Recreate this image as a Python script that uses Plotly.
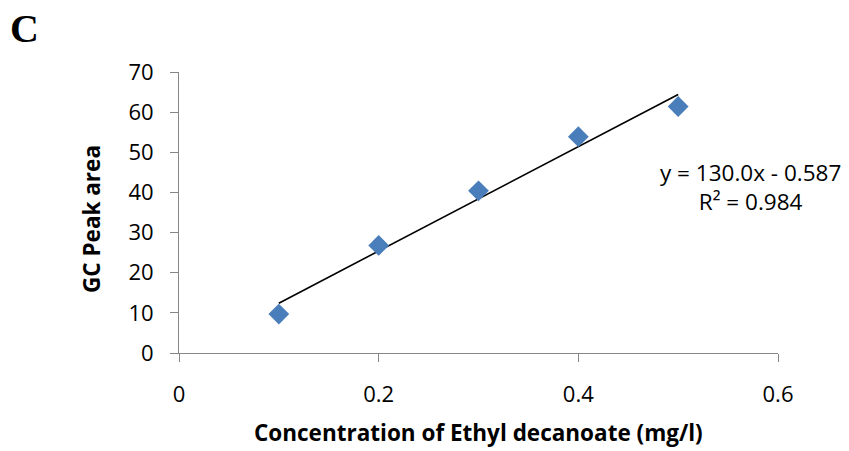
import plotly.graph_objects as go

# Calibration data for ethyl decanoate
concentration = [0.1, 0.2, 0.3, 0.4, 0.5]          # mg/l
peak_area = [9.7, 26.8, 40.4, 53.9, 61.4]          # GC peak area

x_ticks = [0, 0.2, 0.4, 0.6]
x_tick_labels = ["0", "0.2", "0.4", "0.6"]
y_ticks = [0, 10, 20, 30, 40, 50, 60, 70]

# Linear fit reported on the chart
slope = 130.0
intercept = -0.587
r_squared = 0.984

fit_x = [min(concentration), max(concentration)]
fit_y = [slope * x + intercept for x in fit_x]

FONT = "Open Sans"
W, H = 849, 451
L, R, T, B = 179, 71, 72, 98
PW, PH = W - L - R, H - T - B


def px_to_paper(px, py):
    """Convert page pixel position to paper coordinates."""
    return (px - L) / PW, 1 - (py - T) / PH


fig = go.Figure()

fig.add_trace(go.Scatter(
    x=fit_x, y=fit_y, mode="lines",
    line=dict(color="black", width=1.6),
    hoverinfo="skip", showlegend=False,
))

fig.add_trace(go.Scatter(
    x=concentration, y=peak_area, mode="markers",
    marker=dict(symbol="diamond", size=16, color="#4A7EBB",
                line=dict(width=0)),
    showlegend=False,
))

axis_common = dict(
    showline=True, linecolor="#868686", linewidth=1,
    ticks="outside", ticklen=8, tickcolor="#868686", tickwidth=1,
    showgrid=False, zeroline=False,
    tickfont=dict(family=FONT, size=22, color="black"),
)

fig.update_xaxes(range=[0, 0.6], tickvals=x_ticks, ticktext=x_tick_labels,
                 ticklabelstandoff=14, **axis_common)
fig.update_yaxes(range=[0, 70], tickvals=y_ticks,
                 ticklabelstandoff=12, **axis_common)

annotations = []

# Regression equation and coefficient of determination, one centred block
eq_x, eq_y = px_to_paper(750, 187)
annotations.append(dict(
    text=(f"y = {slope:.1f}x - {abs(intercept):.3f}"
          f"<br>R² = {r_squared:.3f}"),
    x=eq_x, y=eq_y, align="center",
    xref="paper", yref="paper", showarrow=False,
    xanchor="center", yanchor="middle",
    font=dict(family=FONT, size=22.5, color="black")))

xt_x, xt_y = px_to_paper(478, 432)
annotations.append(dict(
    text="<b>Concentration of Ethyl decanoate (mg/l)</b>", x=xt_x, y=xt_y,
    xref="paper", yref="paper", showarrow=False,
    xanchor="center", yanchor="middle",
    font=dict(family=FONT, size=22.5, color="black")))

yt_x, yt_y = px_to_paper(91, 219)
annotations.append(dict(
    text="<b>GC Peak area</b>", x=yt_x, y=yt_y, textangle=-90,
    xref="paper", yref="paper", showarrow=False,
    xanchor="center", yanchor="middle",
    font=dict(family=FONT, size=22.5, color="black")))

c_x, c_y = px_to_paper(24, 29)
annotations.append(dict(
    text="<b>C</b>", x=c_x, y=c_y,
    xref="paper", yref="paper", showarrow=False,
    xanchor="center", yanchor="middle",
    font=dict(family="Liberation Serif", size=40, color="black")))

fig.update_layout(
    width=W, height=H,
    margin=dict(l=L, r=R, t=T, b=B),
    plot_bgcolor="white", paper_bgcolor="white",
    annotations=annotations,
)

fig.write_html("out.html")
